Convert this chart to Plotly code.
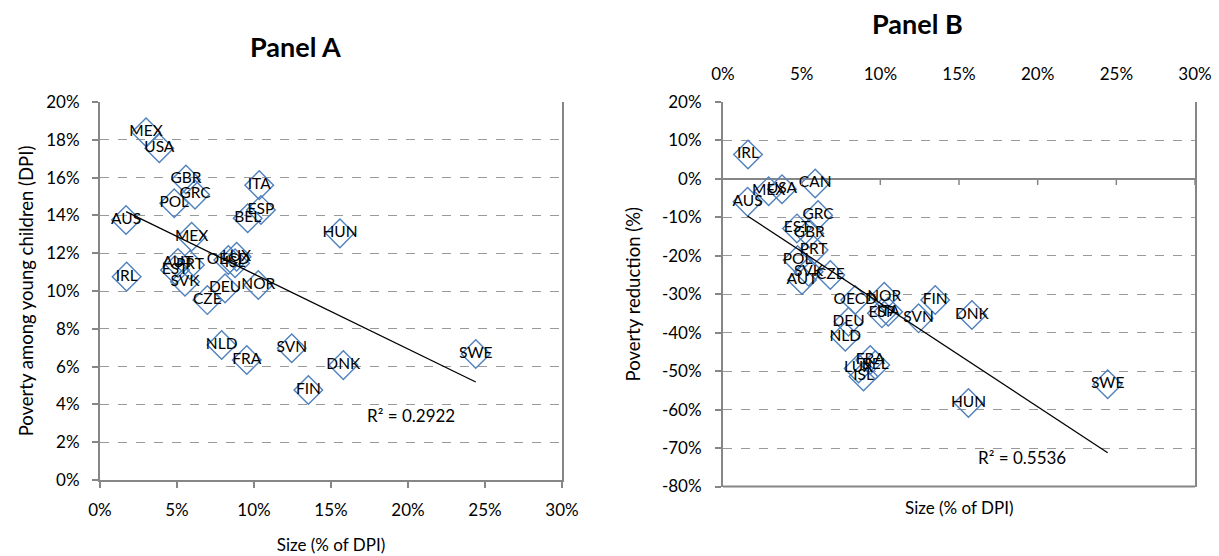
import numpy as np
import plotly.graph_objects as go

# ---------------- Panel A data ----------------
a_countries = ["MEX", "USA", "GBR", "GRC", "POL", "ITA", "ESP", "BEL", "AUS", "HUN",
               "MEX", "IRL", "AUT", "EST", "PRT", "SVK", "CZE", "DEU", "NOR",
               "OECD", "LUX", "ISL", "NLD", "FRA", "SVN", "DNK", "FIN", "SWE"]
a_size = [2.99, 3.85, 5.58, 6.17, 4.82, 10.34, 10.45, 9.59, 1.69, 15.58,
          5.95, 1.73, 5.06, 4.87, 5.84, 5.52, 6.97, 8.12, 10.28,
          8.33, 8.87, 8.77, 7.90, 9.53, 12.45, 15.80, 13.53, 24.40]
a_poverty = [18.4, 17.55, 15.9, 15.1, 14.64, 15.6, 14.29, 13.85, 13.76, 13.05,
             12.87, 10.76, 11.48, 11.11, 11.38, 10.49, 9.52, 10.14, 10.32,
             11.64, 11.81, 11.47, 7.14, 6.35, 6.97, 6.08, 4.76, 6.67]
a_r2_text = "R² = 0.2922"

# ---------------- Panel B data ----------------
b_countries = ["IRL", "MEX", "USA", "CAN", "AUS", "GRC", "EST", "GBR", "PRT", "POL",
               "SVK", "AUT", "CZE", "OECD", "NOR", "ESP", "ITA", "SVN", "FIN", "DNK",
               "DEU", "NLD", "FRA", "BEL", "LUX", "ISL", "HUN", "SWE"]
b_size = [1.59, 2.90, 3.75, 5.86, 1.56, 6.04, 4.70, 5.48, 5.76, 4.74,
          5.44, 5.02, 6.82, 8.40, 10.25, 10.10, 10.50, 12.43, 13.49, 15.82,
          7.98, 7.77, 9.36, 9.68, 8.62, 8.93, 15.60, 24.45]
b_reduction = [6.34, -3.19, -2.68, -1.19, -5.97, -9.43, -12.88, -14.18, -18.52, -21.12,
               -24.16, -26.31, -25.01, -31.5, -30.65, -34.96, -34.55, -36.26, -31.5, -35.4,
               -37.14, -41.04, -47.1, -48.4, -49.3, -51.4, -58.3, -53.4]
b_r2_text = "R² = 0.5536"

# ---------------- Ticks ----------------
x_tickvals = [0, 5, 10, 15, 20, 25, 30]
x_ticktext = ["0%", "5%", "10%", "15%", "20%", "25%", "30%"]
a_y_tickvals = [0, 2, 4, 6, 8, 10, 12, 14, 16, 18, 20]
a_y_ticktext = ["0%", "2%", "4%", "6%", "8%", "10%", "12%", "14%", "16%", "18%", "20%"]
b_y_tickvals = [-80, -70, -60, -50, -40, -30, -20, -10, 0, 10, 20]
b_y_ticktext = ["-80%", "-70%", "-60%", "-50%", "-40%", "-30%", "-20%", "-10%", "0%", "10%", "20%"]

FONT = "Lato"
BLUE = "#4F81BD"
AXC = "#868686"
GRIDC = "#9A9A9A"


def fit_line(x, y):
    x = np.asarray(x, float)
    y = np.asarray(y, float)
    k, b = np.polyfit(x, y, 1)
    xs = np.array([x.min(), x.max()])
    return xs, k * xs + b


fig = go.Figure()

marker = dict(symbol="diamond-open", size=22, color=BLUE, line=dict(width=1.4, color=BLUE))
textfont = dict(family=FONT, size=15.5, color="black")

fig.add_trace(go.Scatter(x=a_size, y=a_poverty, mode="markers+text", text=a_countries,
                         textposition="middle center", marker=marker, textfont=textfont,
                         xaxis="x", yaxis="y", showlegend=False, cliponaxis=False))
xa, ya = fit_line(a_size, a_poverty)
fig.add_trace(go.Scatter(x=xa, y=ya, mode="lines", line=dict(color="black", width=1.3),
                         xaxis="x", yaxis="y", showlegend=False))

fig.add_trace(go.Scatter(x=b_size, y=b_reduction, mode="markers+text", text=b_countries,
                         textposition="middle center", marker=marker, textfont=textfont,
                         xaxis="x2", yaxis="y2", showlegend=False, cliponaxis=False))
xb, yb = fit_line(b_size, b_reduction)
fig.add_trace(go.Scatter(x=xb, y=yb, mode="lines", line=dict(color="black", width=1.3),
                         xaxis="x2", yaxis="y2", showlegend=False))

tickfont = dict(family=FONT, size=17, color="black")
titlefont = dict(family=FONT, size=17, color="black")
ytitlefont = dict(family=FONT, size=18.5, color="black")

common_x = dict(range=[0, 30], tickvals=x_tickvals, ticktext=x_ticktext, showgrid=False,
                zeroline=False, tickfont=tickfont, automargin=False)
common_y = dict(showgrid=True, gridcolor=GRIDC, griddash="dash", gridwidth=1,
                tickfont=tickfont, ticks="outside", ticklen=6, tickcolor=AXC, tickwidth=1.5,
                showline=True, linecolor=AXC, linewidth=2, mirror=True, automargin=False)

fig.update_layout(
    width=1219, height=556,
    margin=dict(l=0, r=0, t=0, b=0),
    paper_bgcolor="white", plot_bgcolor="white",
    font=dict(family=FONT, color="black"),
    xaxis=dict(domain=[100 / 1219, 562 / 1219], anchor="y",
               showline=True, linecolor=AXC, linewidth=2,
               ticks="outside", ticklen=6, tickcolor=AXC, tickwidth=1.5,
               ticklabelstandoff=8,
               title=dict(text="Size (% of DPI)", font=titlefont, standoff=20),
               **common_x),
    yaxis=dict(domain=[1 - 480 / 556, 1 - 102 / 556], anchor="x", range=[0, 20],
               tickvals=a_y_tickvals, ticktext=a_y_ticktext, zeroline=False,
               ticklabelstandoff=9,
               title=dict(text="Poverty among young children (DPI)", font=ytitlefont, standoff=8),
               **common_y),
    xaxis2=dict(domain=[723 / 1219, 1195 / 1219], anchor="y2", side="top",
                showline=False, ticks="", ticklabelstandoff=18, **common_x),
    yaxis2=dict(domain=[1 - 486.5 / 556, 1 - 102 / 556], anchor="x2", range=[-80, 20],
                tickvals=b_y_tickvals, ticktext=b_y_ticktext,
                zeroline=True, zerolinecolor=AXC, zerolinewidth=2,
                ticklabelstandoff=10,
                title=dict(text="Poverty reduction (%)", font=ytitlefont, standoff=16),
                **common_y),
)

shapes = []
# bottom border of Panel B
shapes.append(dict(type="line", xref="x2 domain", yref="y2 domain", x0=0, x1=1, y0=0, y1=0,
                   line=dict(color=AXC, width=2)))
# tick marks on the zero line of Panel B
for v in x_tickvals[1:]:
    shapes.append(dict(type="line", xref="x2", yref="y2", x0=v, x1=v, y0=0, y1=-1.6,
                       line=dict(color=AXC, width=1.5)))
fig.update_layout(shapes=shapes)

annotations = [
    dict(text="<b>Panel A</b>", x=295 / 1219, y=1 - 46 / 556, xref="paper", yref="paper",
         xanchor="center", yanchor="middle",
         showarrow=False, font=dict(family=FONT, size=27, color="black")),
    dict(text="<b>Panel B</b>", x=917 / 1219, y=1 - 24 / 556, xref="paper", yref="paper",
         xanchor="center", yanchor="middle",
         showarrow=False, font=dict(family=FONT, size=27, color="black")),
    dict(text="Size (% of DPI)", x=959 / 1219, y=1 - 507 / 556, xref="paper", yref="paper",
         xanchor="center", yanchor="middle",
         showarrow=False, font=titlefont),
    dict(text=a_r2_text, x=20.2, y=3.4, xref="x", yref="y", showarrow=False,
         xanchor="center", yanchor="middle",
         font=dict(family=FONT, size=17, color="black")),
    dict(text=b_r2_text, x=19.0, y=-72.4, xref="x2", yref="y2", showarrow=False,
         xanchor="center", yanchor="middle",
         font=dict(family=FONT, size=17, color="black")),
]
fig.update_layout(annotations=annotations)

fig.write_html("out.html", config={"displayModeBar": False},
               post_script="document.body.style.margin='0';")
